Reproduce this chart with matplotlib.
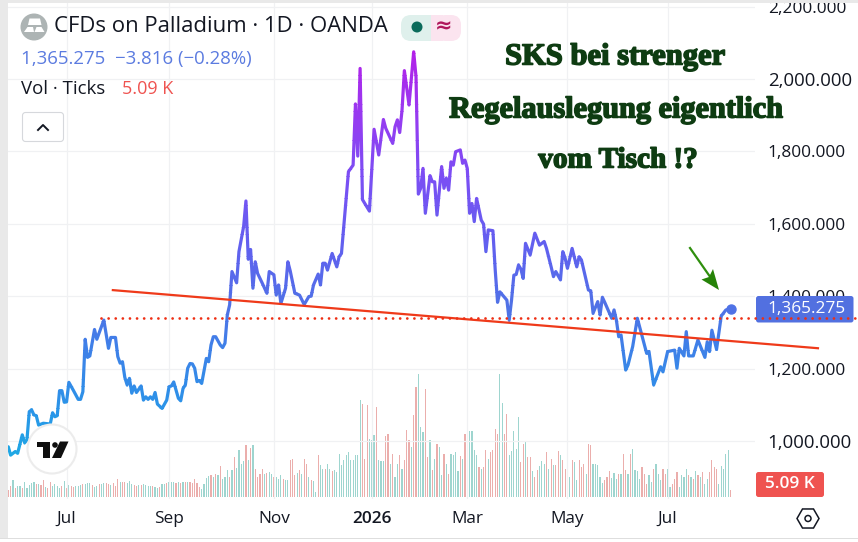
import numpy as np
import matplotlib
matplotlib.use("Agg")
import matplotlib.pyplot as plt
import matplotlib.patheffects as pe
from matplotlib.colors import LinearSegmentedColormap
from matplotlib.patches import Rectangle, Circle, Polygon, FancyBboxPatch, RegularPolygon
from matplotlib.ticker import FixedLocator, FixedFormatter

title = "CFDs on Palladium · 1D · OANDA"
quote = "1,365.275  −3.816 (−0.28%)"
headline = ["SKS bei strenger", "Regelauslegung eigentlich", "vom Tisch !?"]

bar_idx = [0,1,3,4,6,7,8,9,10,11,12,13,15,18,19,20,21,22,23,24,25,26,28,30,31,32,33,34,35,37,38,41,43,44,46,47,48,49,50,51,52,53,54,55,57,58,59,60,61,62,63,64,66,68,69,70,71,73,74,75,76,77,78,79,80,81,82,83,85,86,87,88,89,91,92,93,94,95,96,
           98,99,101,102,103,104,105,106,107,109,111,112,114,115,116,117,119,120,121,123,125,127,129,130,131,133,134,135,136,137,139,141,142,143,146,148,149,150,151,152,155,156,157,159,161,162,165,166,167,168,169,170,172,174,175,176,177,178,179,
           181,182,183,184,186,187,188,189,190,191,192,194,195,196,197,198,199,200,201,203,204,205,206,208,209,210,211,214,215,216,217,218,219,220,221,222,224,226,228,230,231,233,234,235,237,238,239,240,242,244,245,246,248,249,250,251,253,254,255,256,259,260,261,262,263,265,266,268,270,274,275,277,280,281,283,286,287,288,290,291,292,294,296,299,300,301,302,304,306,308,310]
price = [984,961,971,966,1017,995,1003,1081,1086,1072,1070,1044,1049,1047,1078,1067,1070,1139,1139,1107,1108,1162,1139,1115,1115,1136,1281,1231,1235,1308,1281,1334,1256,1286,1286,1233,1215,1219,1176,1155,1173,1132,1152,1134,1152,1113,1122,1115,1122,1115,1134,1102,1090,1113,1150,1152,1163,1118,1111,1145,1155,1201,1214,1213,1201,1164,1167,1159,1228,1219,1265,1288,1288,1265,1258,1270,1348,1376,1468,
         1437,1523,1592,1663,1502,1529,1422,1495,1463,1436,1408,1468,1459,1403,1431,1380,1422,1495,1470,1408,1403,1377,1399,1400,1431,1461,1431,1491,1491,1472,1518,1481,1509,1518,1744,1762,1931,1787,2029,1667,1635,1749,1861,1790,1888,1864,1822,1868,1887,1852,1914,2023,1928,2075,2006,1682,1698,1753,1629,
         1733,1716,1716,1624,1758,1698,1726,1693,1771,1762,1799,1804,1767,1776,1753,1629,1656,1606,1670,1610,1599,1523,1583,1581,1472,1383,1412,1389,1334,1389,1458,1460,1486,1475,1449,1546,1514,1574,1541,1551,1532,1481,1454,1468,1445,1523,1505,1477,1532,1481,1509,1500,1445,1417,1415,1353,1385,1348,1397,1383,1339,1362,1334,1288,1293,1196,1210,1261,1339,1242,1247,1155,1205,1191,1247,1251,1201,1256,1235,1302,1235,1235,1279,1231,1274,1247,1306,1253,1345,1362,1365.275]

vol_k = [5,8,12.5,7,8.5,8,7,11.2,6.5,9, 10.5,11.2,9.5,10,9,13,7.5,7,11.5,8.5, 9.5,8,6.5,8.5,12,7,9,8.5,7.5,8,
         8,9,9.5,10,10.5,10.5,9,7.5,8.5,9.5, 10,10.5,10.5,10,9,10.5,8.5,13.8,11,11, 11.5,10.5,12,9.5,9,8.5,9,9,10,9,
         8.5,8,8.5,7.5,7,7.5,9.5,10,10.5,11.5, 11,11.5,10.5,11.5,10.5,11,11.5,11.5,11,10.5, 13.8,10.5,7.5,6.2,9.5,14.5,15.5,16.2,15,17.5,
         16.5,23,13.8,15,20,15,20,30,22,35.5, 25,27,38.8,27.5,37,38.8,21.2,15,17.5,21.2, 17.5,18,18.8,17,15,15,13.8,16.2,13.8,13,
         12.5,27.5,28.8,16.2,18,20,17.5,28.8,25,15, 13,12,3.8,31.2,23.8,21.2,21.2,25,21.2,19.5, 20,18.8,32.5,23.8,27.5,31.2,33.8,27.5,28,31.2,
         31.2,72.5,70,28.8,68.8,43.8,42.5,46.2,67.5,27.5, 27,27,45.5,47,25,32,15,25,31.2,21.2, 27.5,50,42.5,37.5,61.2,82.5,92,52.5,48.8,81.2, 30,
         43,20,28.2,39.5,37.5, 16.2,32,25,17,32, 31.2,33.8,19.5,30.5,28.8, 47.5,74,49.2,49.2,35, 31.2,22.5,21.2,22.5,35, 28.8,33.8,35,51.2,47.5,
         92,70.8,47.5,62.5,31.2, 34.2,49.2,36.2,60,26.2, 40,41.8,30,30,19.5, 15,20.5,23,26.8,25, 33.8,21.2,28.8,23.8,23.8, 34.2,31.2,27.5,21.2,27.5,
         15,27.5,26.2,12.5,27.5, 22.5,25,17.5,40,38.8, 25,25,23.8,15,10.5, 12.5,15,19.5,14.5,18, 13.8,17.5,17.5,32.5,20, 17.5,32.5,36.2,20.5,19.5,
         13.8,22.5,17.5,10,16.2, 11.2,21.2,25,17.5,12.5, 21.2,17.5,21.2,7.5,10, 13.8,18.8,7.5,16.2,15, 21.2,16.2,15,13.8,19.5, 16.2,15,18.8,10,13.8,
         18.8,27.5,22.5,21.2,10, 23,21.2,32,35,5.09]
vol_dir = ("rrtrttrttt" "ttrtrrtrrt" "tttrtrtrrt" "ttrtttrttr" "ttrrtrrrtr" "rtttrrtrtt" "ttrttrttrt" "ttrtrtrtrr" "rrrttttrtr"
           "trtttrtrtt" "ttrtrtrrrr" "trttrtttrt" "trrrtrtrrt" "rttrttrttr" "tttttttttt" "ttrrrtttrt" "ttrrtrttrt" "rrrtrrtttr" "r"
           "trtrt" "trtrt" "tttrt" "rrttt" "trtrr" "trrrr" "ttrrt" "ttttr" "rtrrt" "rrttt" "rtrtr" "rtrrt" "trttr" "rrtrr" "ttttt"
           "rrrtt" "trtrr" "trttt" "trrrt" "trttt" "rrttr" "rrttt" "trtrt" "rtrtt" "rrrrt" "ttttr")

y_ticks = [1000, 1200, 1400, 1600, 1800, 2000, 2200]
y_labels = ["1,000.000", "1,200.000", "1,400.000", "1,600.000", "1,800.000", "2,000.000", "2,200.000"]
x_ticks = [25, 69, 114, 156, 197, 240, 283]
x_labels = ["Jul", "Sep", "Nov", "2026", "Mar", "May", "Jul"]
trend_idx = [44.4, 348]
trend_price = [1417, 1256]
level_idx = [40, 364]
level_price = [1339, 1339]
last_price = 1365.275

W, H = 858, 542
plt.rcParams["font.family"] = ["Open Sans", "DejaVu Sans"]
fig = plt.figure(figsize=(W / 100, H / 100), dpi=100, facecolor="white")

L, R, T, B = 8, 755, 3, 499
rect = [L / W, 1 - B / H, (R - L) / W, (B - T) / H]

axv = fig.add_axes(rect, zorder=1)
axv.set_xlim(-0.13, 320.5)
axv.set_ylim(-1.5, 370.5)
axv.axis("off")
vx = np.arange(len(vol_k))
vc = ["#ebaeac" if d == "r" else "#9ed5cf" for d in vol_dir[:len(vol_k)]]
axv.bar(vx[:len(vc)], vol_k[:len(vc)], width=0.5, color=vc, linewidth=0)

ax = fig.add_axes(rect, zorder=2)
ax.patch.set_alpha(0)
ax.set_xlim(-0.13, 320.5)
ax.set_ylim(839.8, 2209.8)
for s in ax.spines.values():
    s.set_visible(False)
ax.yaxis.tick_right()
ax.yaxis.set_major_locator(FixedLocator(y_ticks))
ax.yaxis.set_major_formatter(FixedFormatter(y_labels))
ax.xaxis.set_major_locator(FixedLocator(x_ticks))
ax.xaxis.set_major_formatter(FixedFormatter(x_labels))
ax.tick_params(axis="both", length=0, labelcolor="#131722")
ax.tick_params(axis="y", pad=9.2, labelsize=12.4)
ax.tick_params(axis="x", pad=8.5, labelsize=12.4)
for lab, v in zip(ax.get_yticklabels(), y_ticks):
    if v in (1000, 2000):
        lab.set_fontsize(13.4)
for lab, t in zip(ax.get_xticklabels(), x_labels):
    if t == "2026":
        lab.set_fontweight("semibold")
ax.grid(True, color="#f0f1f3", linewidth=0.9)
ax.set_axisbelow(True)

# price line, drawn band by band for the vertical colour gradient
cmap = LinearSegmentedColormap.from_list("g", [(0.0, "#1ea9e4"), (0.12, "#2a94e8"), (0.27, "#3f80e8"),
                                               (0.37, "#4f72e6"), (0.5, "#5f62ee"), (0.68, "#7a4ff4"),
                                               (0.85, "#9a38f0"), (1.0, "#b41fe8")])
edges = np.linspace(950, 2090, 58)
for lo, hi in zip(edges[:-1], edges[1:]):
    ln, = ax.plot(bar_idx, price, color=cmap((0.5 * (lo + hi) - 950) / 1140), lw=2.3,
                  solid_joinstyle="round", solid_capstyle="round", zorder=3)
    ln.set_clip_path(Rectangle((-5, lo - 0.6), 330, hi - lo + 1.2, transform=ax.transData))
ax.plot(bar_idx[-1], price[-1], "o", ms=6.5, color="#4f72e6", zorder=3.5)

deco = fig.add_axes([0, 0, 1, 1], zorder=3)
deco.set_xlim(0, W)
deco.set_ylim(H, 0)
deco.axis("off")
deco.patch.set_alpha(0)

def box(x0, y0, x1, y1, fc, r=2.5, ec="none", lw=0, z=2):
    deco.add_patch(FancyBboxPatch((x0 + r, y0 + r), x1 - x0 - 2 * r, y1 - y0 - 2 * r,
                                  boxstyle=f"round,pad={r},rounding_size={r}", fc=fc, ec=ec, lw=lw, zorder=z))

# window frame
deco.add_patch(Rectangle((0, 0), 7.5, 538, fc="#e9e9e9", ec="none", zorder=1))
deco.add_patch(Rectangle((0, 0), W, 3, fc="#e9e9e9", ec="none", zorder=1))
deco.add_patch(Rectangle((0, 537.6), W, 1, fc="#dedede", ec="none", zorder=1))

# value labels
box(756, 296, 853.5, 322.5, "#5270e0", z=2)
deco.text(807, 309, "1,365.275", color="white", fontsize=12.4, ha="center", va="center", zorder=3)
box(756, 472, 824, 497, "#ef5350", z=2)
deco.text(790, 484.5, "5.09 K", color="white", fontsize=12.4, fontweight="semibold", ha="center", va="center", zorder=3)

# drawn lines over the chart
ax.plot(trend_idx, trend_price, color="#ef3a1a", lw=1.6, clip_on=False, zorder=4, solid_capstyle="butt")
lvl = deco.transData.inverted().transform(ax.transData.transform(np.column_stack([level_idx, level_price])))
deco.plot(lvl[:, 0], lvl[:, 1], color="#ee2f14", lw=2.0, zorder=6, dash_capstyle="round", dashes=(0.01, 2.55))

# green arrow
deco.plot([690, 713], [248, 281], color="#2f8f0e", lw=1.6, zorder=5)
deco.add_patch(Polygon([(719, 290), (701.5, 279.5), (709, 277), (713, 269)], closed=True, fc="#268308", ec="none", zorder=5))

# headline
hl = dict(color="#0e3c12", family="Liberation Serif", fontweight="bold", ha="center", va="center", zorder=6,
          path_effects=[pe.withStroke(linewidth=1.1, foreground="#0e3c12")])
deco.text(615, 57, headline[0], fontsize=22, **hl)
deco.text(615.5, 110, headline[1], fontsize=21.8, **hl)
deco.text(618, 160, headline[2], fontsize=21, **hl)

# header
deco.text(54, 27, title, fontsize=15.9, color="#131722", ha="left", va="center", zorder=6)
deco.text(21, 59, quote, fontsize=13.4, color="#5b7be0", ha="left", va="center", zorder=6)
deco.text(21, 89, "Vol · Ticks", fontsize=13.4, color="#131722", ha="left", va="center", zorder=6)
deco.text(122, 89, "5.09 K", fontsize=13, color="#ef5350", ha="left", va="center", zorder=6)

# symbol icon
deco.add_patch(Circle((34, 27), 13.5, fc="#adb4b4", ec="none", zorder=5))
for pts in ([(34, 18.5), (40, 18.5), (41.5, 25), (28, 25), (29.5, 18.5)],
            [(27.5, 27), (33, 27), (34, 32), (24, 32)], [(36.5, 27), (41.5, 27), (44.5, 32), (34.5, 32)]):
    deco.add_patch(Polygon(pts, closed=True, fc="white", ec="none", zorder=6))

# status pills
box(401, 15, 441, 41, "#dff0ec", r=10, z=4)
deco.add_patch(Circle((417, 27), 5.5, fc="#0b6b5b", ec="none", zorder=5))
box(436, 15, 461, 41, "#fbe4ef", r=10, z=4)
deco.add_patch(Rectangle((431, 15), 12, 26, fc="#fbe4ef", ec="none", zorder=4))
deco.text(444, 26.5, "≈", fontsize=15, fontweight="bold", color="#b0185c", ha="center", va="center", zorder=6,
          family="DejaVu Sans")

# collapse button
box(22.5, 112.5, 63.5, 141.5, "white", r=3, ec="#d6d8dc", lw=0.8, z=5)
deco.plot([38, 43, 48], [130, 125, 130], color="#131722", lw=1.4, zorder=6)

# logo badge
deco.add_patch(Circle((52, 449), 24.5, fc="white", ec="#ececec", lw=1.5, zorder=5))
deco.add_patch(Polygon([(36.5, 441.5), (50, 441.5), (50, 458), (42.5, 458), (42.5, 447), (36.5, 447)],
                       closed=True, fc="#0f0f0f", ec="none", zorder=6))
deco.add_patch(Circle((55, 445), 2.8, fc="#0f0f0f", ec="none", zorder=6))
deco.add_patch(Polygon([(60, 441.5), (68.5, 441.5), (61, 458), (52, 458)], closed=True, fc="#0f0f0f", ec="none", zorder=6))

# settings icon
deco.add_patch(RegularPolygon((808, 518.5), 6, radius=11, orientation=np.pi / 6, fc="none", ec="#131722", lw=1.1, zorder=5))
deco.add_patch(Circle((808, 518.5), 3, fc="none", ec="#131722", lw=1.1, zorder=5))

fig.savefig("out.png", dpi=100, facecolor="white")
